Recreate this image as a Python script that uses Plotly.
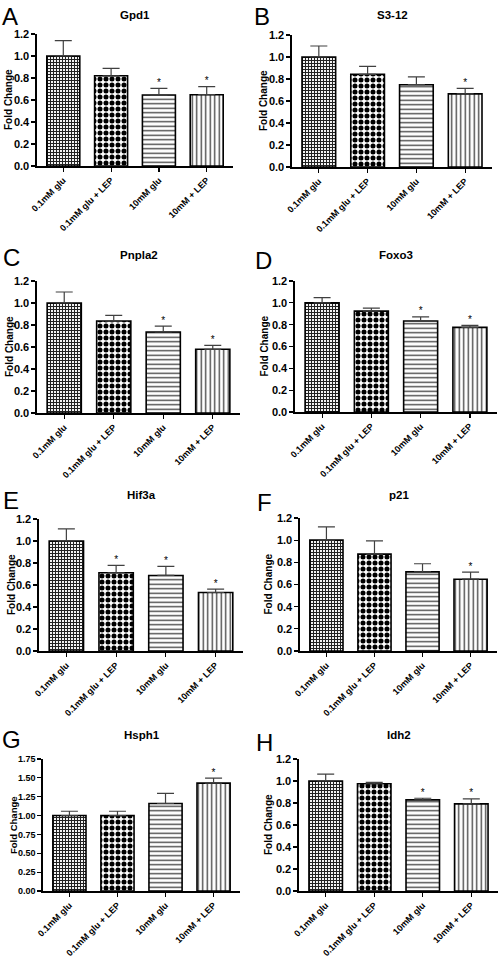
import plotly.graph_objects as go

categories = ["0.1mM glu", "0.1mM glu + LEP", "10mM glu", "10mM + LEP"]
genes = ["Gpd1", "S3-12", "Pnpla2", "Foxo3", "Hif3a", "p21", "Hsph1", "Idh2"]
letters = ["A", "B", "C", "D", "E", "F", "G", "H"]

gpd1_mean = [1.00, 0.82, 0.645, 0.648]
gpd1_err = [0.14, 0.067, 0.06, 0.073]
s312_mean = [1.00, 0.842, 0.748, 0.665]
s312_err = [0.10, 0.073, 0.072, 0.05]
pnpla2_mean = [1.00, 0.836, 0.737, 0.579]
pnpla2_err = [0.10, 0.052, 0.052, 0.035]
foxo3_mean = [1.00, 0.924, 0.833, 0.775]
foxo3_err = [0.047, 0.027, 0.039, 0.018]
hif3a_mean = [1.00, 0.711, 0.687, 0.532]
hif3a_err = [0.11, 0.067, 0.082, 0.03]
p21_mean = [1.00, 0.874, 0.714, 0.648]
p21_err = [0.12, 0.12, 0.073, 0.063]
hsph1_mean = [1.00, 1.00, 1.16, 1.43]
hsph1_err = [0.057, 0.057, 0.133, 0.066]
idh2_mean = [1.00, 0.975, 0.828, 0.792]
idh2_err = [0.063, 0.013, 0.015, 0.045]

sig_gpd1 = [False, False, True, True]
sig_s312 = [False, False, False, True]
sig_pnpla2 = [False, False, True, True]
sig_foxo3 = [False, False, True, True]
sig_hif3a = [False, True, True, True]
sig_p21 = [False, False, False, True]
sig_hsph1 = [False, False, False, True]
sig_idh2 = [False, False, True, True]

means = [gpd1_mean, s312_mean, pnpla2_mean, foxo3_mean, hif3a_mean, p21_mean, hsph1_mean, idh2_mean]
errs = [gpd1_err, s312_err, pnpla2_err, foxo3_err, hif3a_err, p21_err, hsph1_err, idh2_err]
sigs = [sig_gpd1, sig_s312, sig_pnpla2, sig_foxo3, sig_hif3a, sig_p21, sig_hsph1, sig_idh2]

y_max = [1.2, 1.2, 1.2, 1.2, 1.2, 1.2, 1.75, 1.2]
y_dtick = [0.2, 0.2, 0.2, 0.2, 0.2, 0.2, 0.25, 0.2]
y_fmt = [".1f"] * 6 + [".2f", ".1f"]

W, H = 500, 958
# plot areas in pixels: x0, x1, ytop, ybottom
areas = [
    (37, 233, 34, 166), (292, 492, 35, 167),
    (37, 240, 281, 413), (295, 497, 281, 412),
    (39, 243, 519, 651), (300, 497, 518, 651),
    (43, 240, 759, 891), (299, 498, 759, 891),
]
letter_pos = [(0, 1), (252, 1), (1, 242), (253, 245), (1, 485), (255, 487), (0, 724), (254, 727)]
title_y = [15, 15, 255, 255, 495, 495, 735, 735]
ytitle_x = [8, 263, 9, 264, 11, 268, 13, 268]
ytick_size = [11, 11, 11, 11, 11, 11, 9, 11]
ytitle_size = [10, 10, 10, 10, 10, 10, 9.5, 10]

FONT = "Arial, Liberation Sans, sans-serif"

fig = go.Figure()
annotations = []
layout = {}

pat_shapes = ["+", ".", "-", "|"]
pat_sizes = [3, 6, 4.5, 4.5]
pat_sol = [0.6, 0.55, 0.3, 0.3]
pat_fg = ["#222222", "#000000", "#444444", "#444444"]

for i in range(8):
    n = i + 1
    xa = "x" if n == 1 else f"x{n}"
    ya = "y" if n == 1 else f"y{n}"
    x0, x1, yt, yb = areas[i]
    fig.add_trace(go.Bar(
        x=categories, y=means[i], xaxis=xa, yaxis=ya, width=0.69,
        marker=dict(color="white", line=dict(color="black", width=1.6),
                    pattern=dict(shape=pat_shapes, size=pat_sizes, solidity=pat_sol,
                                 fgcolor=pat_fg, bgcolor="white", fillmode="replace")),
        error_y=dict(type="data", symmetric=False, array=errs[i], arrayminus=[0] * 4,
                     color="#404040", thickness=1.2, width=8.5),
        showlegend=False, hoverinfo="skip",
    ))
    sx = [c for c, s in zip(categories, sigs[i]) if s]
    sy = [m + e for m, e, s in zip(means[i], errs[i], sigs[i]) if s]
    fig.add_trace(go.Scatter(
        x=sx, y=sy, xaxis=xa, yaxis=ya, mode="text", text=["*"] * len(sx),
        textposition="top center", textfont=dict(family=FONT, size=10, color="black"),
        showlegend=False, hoverinfo="skip", cliponaxis=False,
    ))
    xkey = "xaxis" if n == 1 else f"xaxis{n}"
    ykey = "yaxis" if n == 1 else f"yaxis{n}"
    layout[xkey] = dict(
        domain=[x0 / W, x1 / W], anchor=ya, range=[-0.55, 3.55], automargin=False,
        showline=True, linecolor="black", linewidth=1.6, ticks="outside",
        ticklen=4, tickwidth=1.2, tickcolor="black", tickangle=-45,
        tickfont=dict(family=FONT, size=9, color="black", weight="bold"),
        showgrid=False, zeroline=False, fixedrange=True,
    )
    layout[ykey] = dict(
        domain=[1 - yb / H, 1 - yt / H], anchor=xa, range=[0, y_max[i]], automargin=False,
        dtick=y_dtick[i], tick0=0, tickformat=y_fmt[i],
        showline=True, linecolor="black", linewidth=1.6, ticks="outside",
        ticklen=4, tickwidth=1.2, tickcolor="black",
        tickfont=dict(family=FONT, size=ytick_size[i], color="black", weight="bold"),
        showgrid=False, zeroline=False, fixedrange=True,
    )
    # title
    annotations.append(dict(
        x=(x0 + x1) / 2 / W, y=1 - title_y[i] / H, xref="paper", yref="paper",
        text=f"<b>{genes[i]}</b>", showarrow=False, xanchor="center", yanchor="middle",
        font=dict(family=FONT, size=11.5, color="black"),
    ))
    # panel letter
    lx, ly = letter_pos[i]
    annotations.append(dict(
        x=lx / W, y=1 - ly / H, xref="paper", yref="paper", text=letters[i],
        showarrow=False, xanchor="left", yanchor="top",
        font=dict(family=FONT, size=24, color="black"),
    ))
    # y axis title
    annotations.append(dict(
        x=ytitle_x[i] / W, y=1 - (yt + yb) / 2 / H, xref="paper", yref="paper",
        text="<b>Fold Change</b>", showarrow=False, textangle=-90,
        xanchor="center", yanchor="middle",
        font=dict(family=FONT, size=ytitle_size[i], color="black"),
    ))

fig.update_layout(
    width=W, height=H, margin=dict(l=0, r=0, t=0, b=0, pad=0),
    paper_bgcolor="white", plot_bgcolor="white", hovermode=False,
    annotations=annotations, bargap=0.3, **layout,
)

fig.write_html(
    "out.html",
    config={"displayModeBar": False, "staticPlot": True},
    post_script="document.body.style.margin='0';document.body.style.overflow='hidden';",
)
